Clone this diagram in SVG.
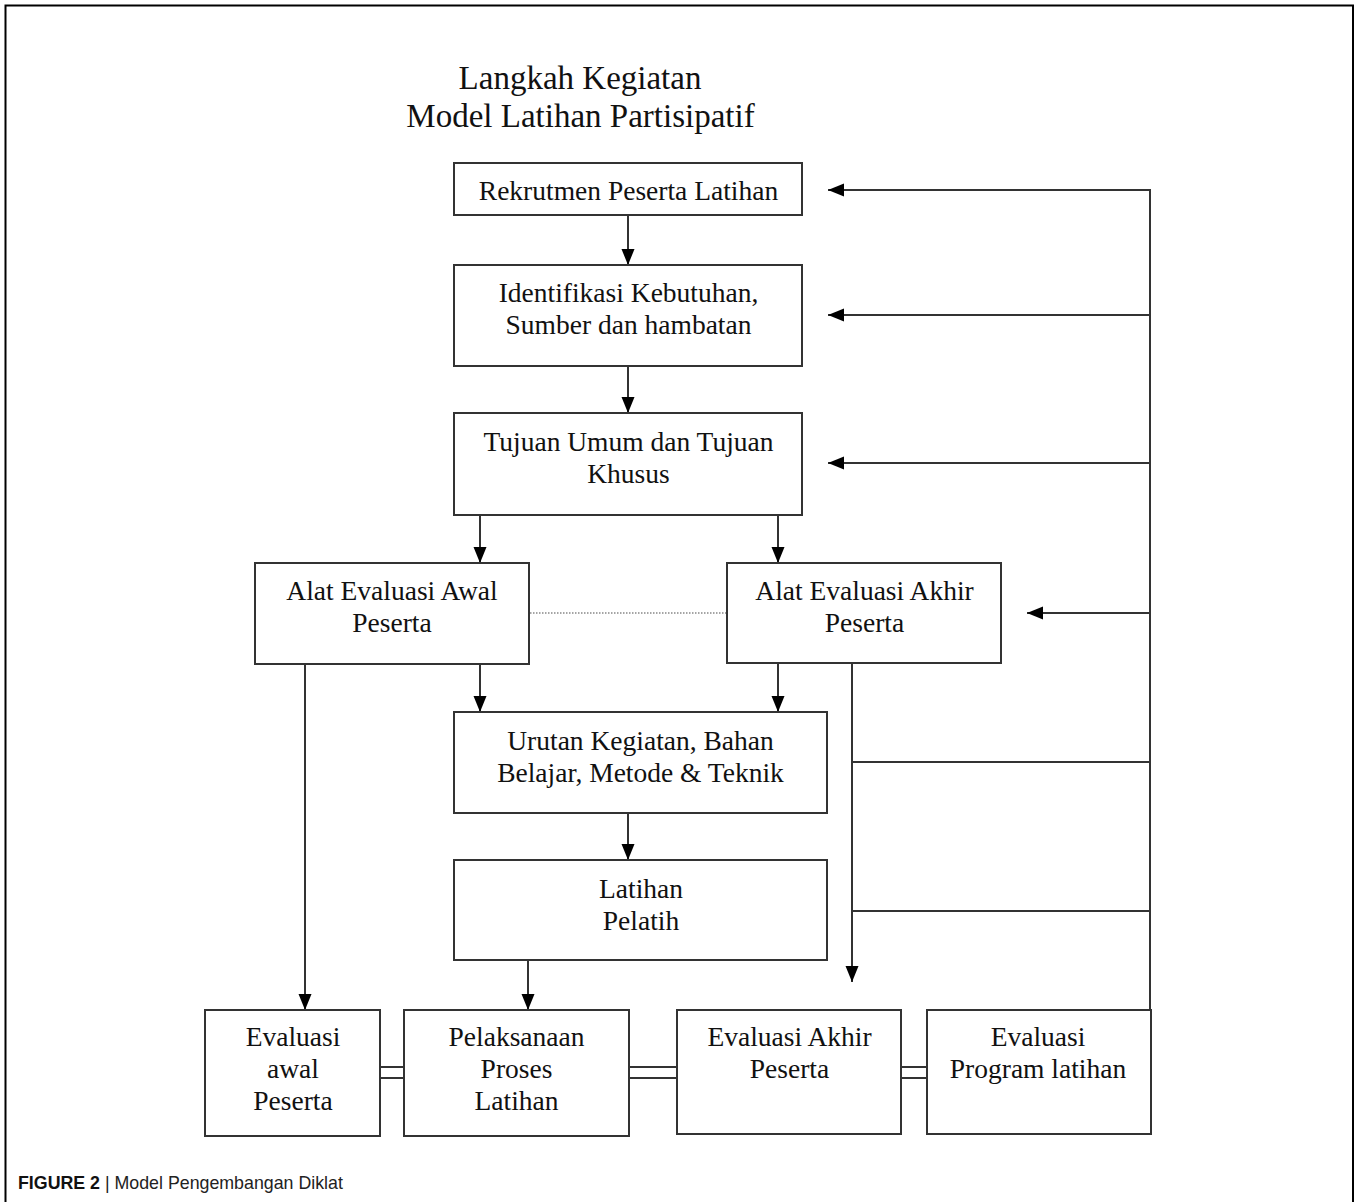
<svg xmlns="http://www.w3.org/2000/svg" width="1361" height="1202" viewBox="0 0 1361 1202">
  <defs>
    <marker id="ah" markerUnits="userSpaceOnUse" markerWidth="17" markerHeight="14" refX="16" refY="6.5" orient="auto">
      <path d="M0,0 L16,6.5 L0,13 z" fill="#000"/>
    </marker>
    <style>
      .box { fill: #fff; stroke: #333; stroke-width: 2; }
      .t { font-family: "Liberation Serif", "Times New Roman", serif; font-size: 27.5px; fill: #111; text-anchor: middle; }
      .title { font-family: "Liberation Serif", "Times New Roman", serif; font-size: 33px; fill: #111; text-anchor: middle; }
      .c { fill: none; stroke: #333; stroke-width: 2; }
      .a { marker-end: url(#ah); }
      .dot { fill: none; stroke: #888; stroke-width: 1.5; stroke-dasharray: 1.5 1.5; }
      .cap { font-family: "Liberation Sans", Arial, sans-serif; font-size: 17.8px; fill: #222; }
    </style>
  </defs>
  <rect width="1361" height="1202" fill="#fff"/>
  <path d="M5.5,1202 V5.5 H1353 V1202" fill="none" stroke="#000" stroke-width="2"/>

  <g id="title">
    <text class="title" x="580" y="89">Langkah Kegiatan</text>
    <text class="title" x="580.5" y="127">Model Latihan Partisipatif</text>
  </g>

  <g id="connectors">
    <path class="c a" d="M628,215 V265"/>
    <path class="c a" d="M628,366 V413"/>
    <path class="c a" d="M480,515 V563"/>
    <path class="c a" d="M778,515 V563"/>
    <path class="c a" d="M480,664 V712"/>
    <path class="c a" d="M778,663 V712"/>
    <path class="c a" d="M628,813 V860"/>
    <path class="c a" d="M528,960 V1010"/>
    <path class="c a" d="M305,664 V1010"/>
    <path class="c a" d="M852,663 V982"/>
    <path class="c" d="M1150,1085 V189"/>
    <path class="c a" d="M1151,190 H828"/>
    <path class="c a" d="M1150,315 H828"/>
    <path class="c a" d="M1150,463 H828"/>
    <path class="c a" d="M1150,613 H1027"/>
    <path class="c" d="M852,762 H1150"/>
    <path class="c" d="M852,911 H1150"/>
    <path class="dot" d="M530,613 H727"/>
    <path class="c" d="M380,1067 H404 M380,1078 H404"/>
    <path class="c" d="M629,1067 H677 M629,1078 H677"/>
    <path class="c" d="M901,1067 H927 M901,1078 H927"/>
  </g>

  <g id="rekrutmen">
    <rect class="box" x="454" y="163" width="348" height="52"/>
    <text class="t" x="628.5" y="200">Rekrutmen Peserta Latihan</text>
  </g>
  <g id="identifikasi">
    <rect class="box" x="454" y="265" width="348" height="101"/>
    <text class="t" x="628.5" y="302">Identifikasi Kebutuhan,</text>
    <text class="t" x="628.5" y="334">Sumber dan hambatan</text>
  </g>
  <g id="tujuan">
    <rect class="box" x="454" y="413" width="348" height="102"/>
    <text class="t" x="628.5" y="451">Tujuan Umum dan Tujuan</text>
    <text class="t" x="628.5" y="483">Khusus</text>
  </g>
  <g id="alat-awal">
    <rect class="box" x="255" y="563" width="274" height="101"/>
    <text class="t" x="392" y="600">Alat Evaluasi Awal</text>
    <text class="t" x="392" y="632">Peserta</text>
  </g>
  <g id="alat-akhir">
    <rect class="box" x="727" y="563" width="274" height="100"/>
    <text class="t" x="864.5" y="600">Alat Evaluasi Akhir</text>
    <text class="t" x="864.5" y="632">Peserta</text>
  </g>
  <g id="urutan">
    <rect class="box" x="454" y="712" width="373" height="101"/>
    <text class="t" x="640.5" y="750">Urutan Kegiatan, Bahan</text>
    <text class="t" x="640.5" y="782">Belajar, Metode &amp; Teknik</text>
  </g>
  <g id="latihan">
    <rect class="box" x="454" y="860" width="373" height="100"/>
    <text class="t" x="641" y="898">Latihan</text>
    <text class="t" x="641" y="930">Pelatih</text>
  </g>
  <g id="evaluasi-awal">
    <rect class="box" x="205" y="1010" width="175" height="126"/>
    <text class="t" x="293" y="1046">Evaluasi</text>
    <text class="t" x="293" y="1078">awal</text>
    <text class="t" x="293" y="1110">Peserta</text>
  </g>
  <g id="pelaksanaan">
    <rect class="box" x="404" y="1010" width="225" height="126"/>
    <text class="t" x="516.5" y="1046">Pelaksanaan</text>
    <text class="t" x="516.5" y="1078">Proses</text>
    <text class="t" x="516.5" y="1110">Latihan</text>
  </g>
  <g id="evaluasi-akhir">
    <rect class="box" x="677" y="1010" width="224" height="124"/>
    <text class="t" x="789.5" y="1046">Evaluasi Akhir</text>
    <text class="t" x="789.5" y="1078">Peserta</text>
  </g>
  <g id="evaluasi-program">
    <rect class="box" x="927" y="1010" width="224" height="124"/>
    <text class="t" x="1038" y="1046">Evaluasi</text>
    <text class="t" x="1038" y="1078">Program latihan</text>
  </g>

  <g id="caption">
    <text class="cap" x="18" y="1189"><tspan font-weight="bold" fill="#111">FIGURE 2</tspan> | Model Pengembangan Diklat</text>
  </g>
</svg>
